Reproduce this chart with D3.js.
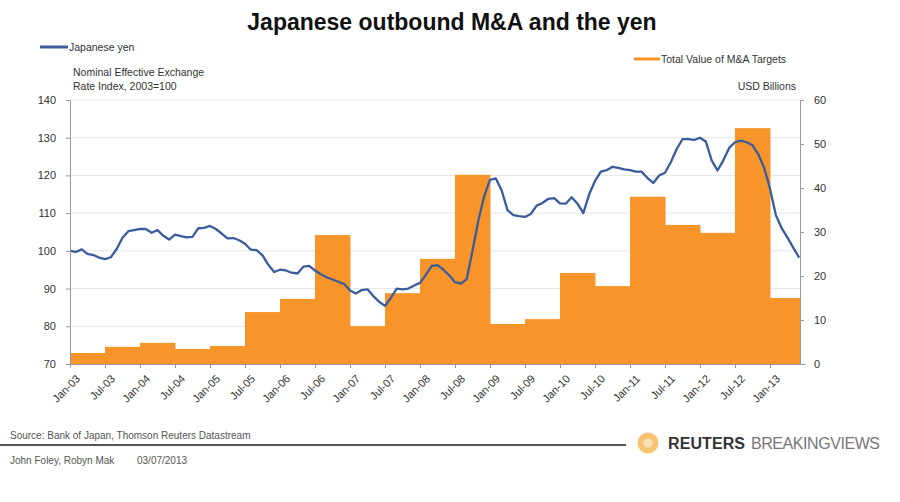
<!DOCTYPE html>
<html><head><meta charset="utf-8">
<script src="https://cdn.jsdelivr.net/npm/d3@7"></script>
<style>body{margin:0;background:#fff}svg{font-family:"Liberation Sans",Arial,sans-serif}</style>
</head><body>
<script>
// Monthly yen nominal effective exchange rate index (2003=100), Jan-03 .. Jun-13
const yenIndex = [
100.0,99.7,100.4,99.2,98.9,98.2,97.8,98.3,100.5,103.5,105.2,105.5,
105.8,105.8,104.8,105.5,104.0,103.0,104.3,103.9,103.6,103.7,106.0,106.1,
106.6,105.8,104.6,103.3,103.4,102.8,101.9,100.3,100.2,98.8,96.3,94.4,
95.0,94.8,94.2,94.0,95.8,96.0,94.8,93.8,93.0,92.4,91.8,91.2,
89.5,88.7,89.6,89.8,88.0,86.5,85.4,87.5,90.0,89.8,90.0,90.8,
91.5,93.6,96.0,96.2,95.0,93.5,91.7,91.3,92.5,100.0,108.0,114.5,
118.8,119.2,116.0,110.8,109.5,109.2,109.0,109.8,112.0,112.7,113.8,114.0,
112.6,112.5,114.2,112.5,110.0,115.0,118.5,121.0,121.4,122.3,122.0,121.6,
121.4,121.0,121.0,119.3,118.0,120.0,120.7,123.5,127.0,129.6,129.6,129.4,
130.0,129.0,124.0,121.3,124.0,127.3,128.8,129.2,128.8,128.0,125.6,122.0,
116.5,109.5,106.0,103.5,100.8,98.2];
// Half-yearly total value of Japanese outbound M&A targets, USD billions (H1-03 .. H1-13)
const mnaValue = [2.5,3.9,4.8,3.4,4.1,11.8,14.8,29.3,8.6,16.1,23.9,43.0,9.1,10.2,20.7,17.7,38.0,31.6,29.8,53.6,15.0];
const periodLabels = ["Jan-03","Jul-03","Jan-04","Jul-04","Jan-05","Jul-05","Jan-06","Jul-06","Jan-07","Jul-07","Jan-08","Jul-08","Jan-09","Jul-09","Jan-10","Jul-10","Jan-11","Jul-11","Jan-12","Jul-12","Jan-13"];
const leftTicks = [70,80,90,100,110,120,130,140];
const rightTicks = [0,10,20,30,40,50,60];

const W=900,H=502, L=70, R=800, T=100, B=364;
const svg=d3.select("body").append("svg").attr("width",W).attr("height",H);

const x=d3.scaleLinear().domain([0,126]).range([L,805]);
const yL=d3.scaleLinear().domain([70,140]).range([B,T]);
const yR=d3.scaleLinear().domain([0,60]).range([B,T]);

// grid
svg.append("g").selectAll("line").data(leftTicks.slice(1)).join("line")
 .attr("x1",L).attr("x2",R).attr("y1",d=>yL(d)).attr("y2",d=>yL(d))
 .attr("stroke","#e6e6e6").attr("stroke-width",1);

svg.append("defs").append("clipPath").attr("id","clip").append("rect")
 .attr("x",L).attr("y",T-10).attr("width",R-L).attr("height",B-T+10);

// bars
svg.append("g").attr("clip-path","url(#clip)").selectAll("rect").data(mnaValue).join("rect")
 .attr("x",(d,i)=>x(i*6)).attr("width",(d,i)=>x(i*6+6)-x(i*6)+0.5)
 .attr("y",d=>yR(d)).attr("height",d=>B-yR(d)).attr("fill","#f7952b");

// line
svg.append("path").datum(yenIndex)
 .attr("d",d3.line().x((d,i)=>x(i)).y(d=>yL(d)))
 .attr("fill","none").attr("stroke","#3a5c9c").attr("stroke-width",2.3).attr("stroke-linejoin","round");

// axes
const axL=svg.append("g").attr("transform",`translate(${L},0)`)
 .call(d3.axisLeft(yL).tickValues(leftTicks).tickSize(4).tickSizeOuter(0).tickPadding(10));
const axR=svg.append("g").attr("transform",`translate(${R},0)`)
 .call(d3.axisRight(yR).tickValues(rightTicks).tickSize(4).tickSizeOuter(0).tickPadding(10));
const axB=svg.append("g").attr("transform",`translate(0,${B})`)
 .call(d3.axisBottom(x).tickValues(periodLabels.map((d,i)=>i*6)).tickFormat((d,i)=>periodLabels[i]).tickSize(4).tickSizeOuter(0));
[axL,axR,axB].forEach(a=>{
 a.select(".domain").attr("stroke","#999");
 a.selectAll(".tick line").attr("stroke","#999");
 a.selectAll("text").attr("font-size",11).attr("fill","#333").attr("font-family","Liberation Sans, Arial, sans-serif");
});
axB.selectAll("text").attr("text-anchor","end").attr("transform","translate(3,5) rotate(-45)").attr("dy","0.5em").attr("dx","-0.2em");

// title
svg.append("text").attr("x",452).attr("y",30).attr("text-anchor","middle")
 .attr("font-size",23).attr("font-weight","bold").attr("fill","#111").text("Japanese outbound M&A and the yen");

// legends
svg.append("line").attr("x1",40).attr("x2",68).attr("y1",47).attr("y2",47).attr("stroke","#3a5c9c").attr("stroke-width",3);
svg.append("text").attr("x",69).attr("y",51).attr("font-size",10.5).attr("fill","#333").text("Japanese yen");
svg.append("line").attr("x1",634).attr("x2",660).attr("y1",59).attr("y2",59).attr("stroke","#f7952b").attr("stroke-width",3);
svg.append("text").attr("x",661).attr("y",63).attr("font-size",10.5).attr("fill","#333").text("Total Value of M&A Targets");
svg.append("text").attr("x",73).attr("y",76).attr("font-size",10.5).attr("fill","#333").text("Nominal Effective Exchange");
svg.append("text").attr("x",73).attr("y",90).attr("font-size",10.5).attr("fill","#333").text("Rate Index, 2003=100");
svg.append("text").attr("x",796).attr("y",90).attr("text-anchor","end").attr("font-size",10.5).attr("fill","#333").text("USD Billions");

// footer
svg.append("text").attr("x",10).attr("y",439).attr("font-size",10).attr("fill","#555").text("Source: Bank of Japan, Thomson Reuters Datastream");
svg.append("line").attr("x1",0).attr("x2",626).attr("y1",445).attr("y2",445).attr("stroke","#555").attr("stroke-width",2);
svg.append("text").attr("x",10).attr("y",464).attr("font-size",10).attr("fill","#555").text("John Foley, Robyn Mak");
svg.append("text").attr("x",137).attr("y",464).attr("font-size",10).attr("fill","#555").text("03/07/2013");
const g=svg.append("g");
g.append("circle").attr("cx",648).attr("cy",443).attr("r",10.5).attr("fill","#f5b85a").attr("opacity",0.85);
g.append("circle").attr("cx",648).attr("cy",443).attr("r",4.5).attr("fill","#fbe3b5");
g.append("text").attr("x",668).attr("y",449).attr("font-size",16).attr("font-weight","bold").attr("fill","#333").attr("textLength",77).text("REUTERS");
g.append("text").attr("x",751).attr("y",449).attr("font-size",16).attr("fill","#777").attr("textLength",129).text("BREAKINGVIEWS");
</script>
</body></html>
